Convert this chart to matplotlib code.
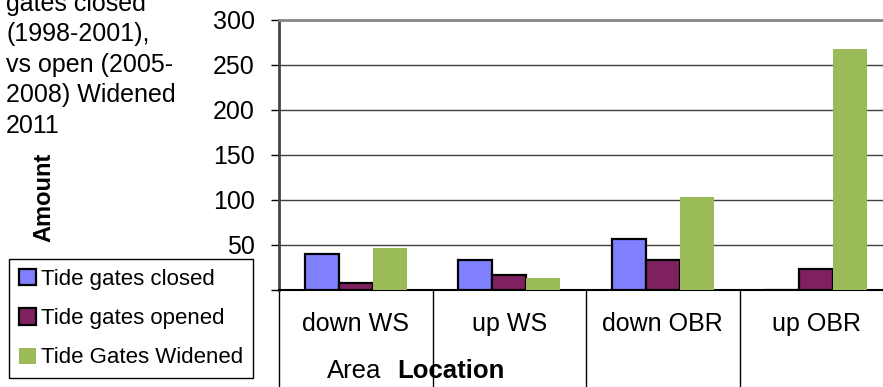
import matplotlib
matplotlib.use("Agg")
import matplotlib.pyplot as plt
import matplotlib.transforms as mtransforms
import numpy as np

plt.rcParams['font.family'] = ['Liberation Sans', 'DejaVu Sans']

# data
locations = ["down WS", "up WS", "down OBR", "up OBR"]
gates_closed = [40, 33, 57, 0]
gates_opened = [8, 17, 33, 23]
gates_widened = [47, 13, 103, 267]
series_names = ["Tide gates closed", "Tide gates opened", "Tide Gates Widened"]
y_ticks = [0, 50, 100, 150, 200, 250, 300]

fig = plt.figure(figsize=(8.83, 3.87), dpi=100)
ax = fig.add_axes([279 / 883, 97 / 387, 614 / 883, 270.5 / 387])

x = np.arange(len(locations))
w = 1 / 4.5
b1 = ax.bar(x - w, gates_closed, w, color="#8080FF", edgecolor="black", linewidth=1.6, zorder=3)
b2 = ax.bar(x, gates_opened, w, color="#802060", edgecolor="black", linewidth=1.6, zorder=3)
b3 = ax.bar(x + w, gates_widened, w, color="#9BBB59", linewidth=0, zorder=3)

ax.set_xlim(-0.5, 3.5)
ax.set_ylim(0, 300)
ax.set_yticks(y_ticks)
ax.set_yticklabels([str(v) for v in y_ticks])
ax.yaxis.grid(True, color="#404040", linewidth=1, zorder=0)
ax.set_axisbelow(True)

ax.spines["right"].set_visible(False)
ax.spines["top"].set_color("#888888")
ax.spines["top"].set_linewidth(2)
ax.spines["left"].set_color("#444444")
ax.spines["left"].set_linewidth(2)
ax.spines["bottom"].set_color("black")
ax.spines["bottom"].set_linewidth(1.5)

ax.tick_params(axis="y", direction="out", length=5.5, width=1, pad=12, labelsize=18)
ax.set_xticks(x)
ax.set_xticklabels(locations)
ax.tick_params(axis="x", length=0, pad=15.5, labelsize=18)

# category separators running down through the label area
trans = mtransforms.blended_transform_factory(ax.transData, ax.transAxes)
ax.vlines([-0.5, 0.5, 1.5, 2.5], -0.4, 0, transform=trans, color="black",
          linewidth=1, clip_on=False)

fig.text(327 / 883, 1 - 371 / 387, "Area", fontsize=18.5, va="center", ha="left")
fig.text(397 / 883, 1 - 371 / 387, "Location", fontsize=18.5, va="center", ha="left",
         fontweight="bold")
fig.text(44 / 883, 1 - 197 / 387, "Amount", fontsize=17, rotation=90, va="center",
         ha="center", fontweight="bold")
fig.text(6 / 883, 1 + 8 / 387,
         "gates closed\n(1998-2001),\nvs open (2005-\n2008) Widened\n2011",
         fontsize=18, va="top", ha="left", linespacing=1.34)

leg = fig.legend([b1, b2, b3], series_names, loc="upper left",
                 bbox_to_anchor=(9 / 883, 1 - 259 / 387), fontsize=16,
                 frameon=True, fancybox=False, framealpha=1, borderaxespad=0,
                 borderpad=0.45, handlelength=0.75, handleheight=0.75,
                 handletextpad=0.25, labelspacing=0.82)
leg.get_frame().set_edgecolor("black")
leg.get_frame().set_linewidth(1)

fig.savefig("out.png", dpi=100)
